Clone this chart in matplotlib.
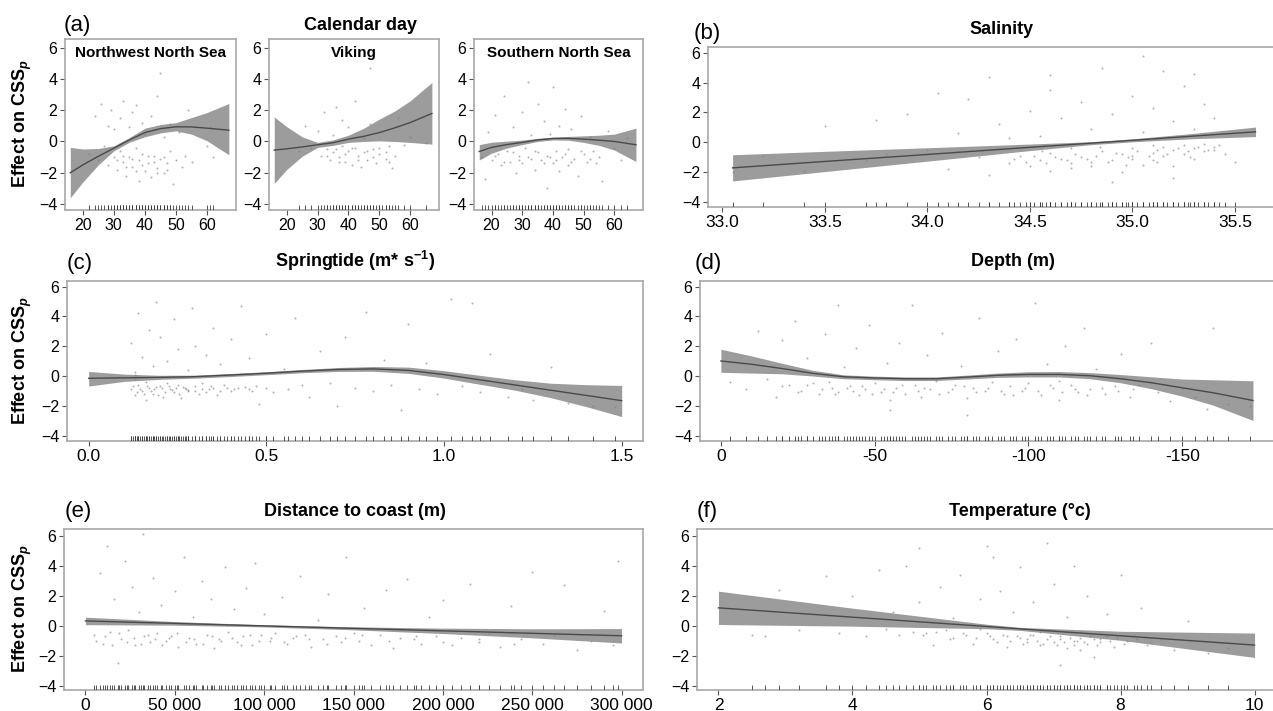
import matplotlib
matplotlib.use("Agg")
import matplotlib.pyplot as plt

plt.rcParams['font.family'] = ['Liberation Sans', 'DejaVu Sans']
plt.rcParams['mathtext.fontset'] = 'custom'
plt.rcParams['mathtext.rm'] = 'Liberation Sans:bold'
plt.rcParams['mathtext.bf'] = 'Liberation Sans:bold'
plt.rcParams['mathtext.it'] = 'Liberation Sans:italic:bold'

# ---- (a) calendar day, three regions ----
cal_x = [16, 20, 25, 30, 35, 40, 45, 50, 55, 60, 67]
nw_fit = [-2.0, -1.5, -0.95, -0.43, 0.1, 0.57, 0.82, 0.94, 0.93, 0.85, 0.72]
nw_lo = [-3.6, -2.6, -1.5, -0.6, -0.05, 0.3, 0.55, 0.68, 0.47, 0.04, -0.85]
nw_hi = [-0.38, -0.48, -0.45, -0.28, 0.25, 0.85, 1.08, 1.2, 1.53, 1.85, 2.43]
vk_fit = [-0.55, -0.47, -0.35, -0.21, -0.08, 0.15, 0.33, 0.57, 0.87, 1.21, 1.79]
vk_lo = [-2.68, -1.8, -0.95, -0.38, -0.25, -0.06, 0.0, 0.04, 0.0, -0.06, -0.17]
vk_hi = [1.57, 0.95, 0.3, -0.06, 0.1, 0.4, 0.85, 1.43, 1.95, 2.6, 3.77]
ss_fit = [-0.64, -0.38, -0.2, -0.06, 0.1, 0.19, 0.2, 0.15, 0.08, 0.0, -0.21]
ss_lo = [-1.19, -0.75, -0.42, -0.2, 0.0, 0.1, 0.08, -0.06, -0.25, -0.55, -1.28]
ss_hi = [-0.2, -0.05, 0.02, 0.09, 0.2, 0.28, 0.32, 0.36, 0.4, 0.47, 0.85]

nw_pts = [(22, -0.8), (24, 1.6), (25, -1.2), (26, 2.4), (27, -0.3), (28, 1.0), (28, -1.5),
          (29, 2.0), (30, -1.0), (30, 0.8), (31, -1.8), (32, 1.5), (32, -0.6), (33, 2.6),
          (33, -1.3), (34, -2.2), (35, 0.9), (35, -1.0), (36, 1.9), (36, -1.6), (37, -0.4),
          (37, 2.3), (38, -1.2), (38, -2.5), (39, 1.2), (39, -0.8), (40, -1.9), (40, 0.5),
          (41, -1.4), (42, 1.6), (42, -2.3), (43, -0.9), (44, -1.7), (44, 2.9), (45, -1.1),
          (45, 4.4), (46, 0.3), (46, -2.0), (47, -1.4), (48, 1.1), (48, -0.6), (49, -2.7),
          (50, -1.2), (51, 0.6), (52, -1.6), (53, -0.9), (54, 2.0), (55, -1.3), (60, -0.3),
          (61, 0.9), (62, -1.0), (31, -1.2), (33, -0.9), (34, -1.6), (36, -1.1), (37, -1.9),
          (39, -1.5), (41, -0.9), (43, -1.3), (44, -2.0), (46, -1.0), (47, -1.8)]
vk_pts = [(24, -0.6), (26, 1.0), (28, -0.4), (30, 0.7), (31, -0.9), (32, 1.9), (33, -0.5),
          (34, -1.2), (35, 0.4), (35, -0.7), (36, 2.2), (37, -1.0), (38, -0.3), (38, 1.4),
          (39, -1.3), (40, -0.6), (40, 0.9), (41, -1.5), (42, -0.4), (42, 2.6), (43, -0.9),
          (44, -1.6), (45, 0.2), (45, -0.7), (46, -1.2), (47, 4.7), (47, 1.1), (48, -0.5),
          (49, -1.4), (50, -0.8), (51, 0.6), (52, -1.1), (53, -0.3), (54, -1.7), (55, -0.9),
          (56, 1.5), (58, -0.2), (60, 0.3), (65, -0.1), (33, -0.9), (36, -0.5), (37, -1.3),
          (39, -0.8), (41, -0.4), (43, -1.2), (46, -0.6), (48, -1.0), (50, -0.4), (52, -0.7),
          (53, -1.3)]
ss_pts = [(17, -1.0), (18, -2.4), (19, 0.6), (20, -1.2), (21, 1.7), (22, -0.8), (23, -1.5),
          (24, 2.9), (25, -0.6), (26, -1.3), (27, 0.9), (28, -2.0), (29, -0.9), (30, 1.9),
          (30, -1.4), (31, -0.4), (32, 3.8), (33, -1.1), (33, 0.4), (34, -1.8), (35, 2.4),
          (35, -0.7), (36, -1.2), (37, 1.3), (38, -0.9), (38, -3.0), (39, 0.5), (40, -1.4),
          (40, 3.5), (41, -0.6), (42, 1.0), (42, -1.9), (43, -1.0), (44, 2.1), (45, -0.5),
          (45, -1.5), (46, 0.8), (47, -1.1), (48, -2.2), (49, 1.6), (50, -0.8), (51, -1.3),
          (52, 0.3), (53, -0.6), (55, -1.0), (56, -2.5), (58, 0.7), (60, -0.4), (62, -1.2),
          (64, 0.2), (21, -0.9), (24, -1.3), (27, -0.7), (29, -1.2), (32, -1.0), (34, -0.6),
          (37, -1.4), (39, -1.0), (41, -1.2), (44, -0.8), (46, -1.3), (49, -0.6), (52, -1.1),
          (54, -1.4)]

# ---- (b) salinity ----
sal_x = [33.05, 33.5, 34.0, 34.5, 34.8, 35.0, 35.3, 35.6]
sal_fit = [-1.72, -1.29, -0.82, -0.34, -0.06, 0.13, 0.42, 0.7]
sal_lo = [-2.6, -1.97, -1.27, -0.56, -0.16, 0.03, 0.24, 0.38]
sal_hi = [-0.84, -0.61, -0.37, -0.12, 0.04, 0.23, 0.6, 1.02]
sal_pts = [(33.05, -2.0), (33.2, -0.9), (33.4, -1.9), (33.5, 1.1), (33.7, -1.2), (33.75, 1.5),
           (33.8, -0.8), (33.9, 1.9), (34.0, -0.5), (34.05, 3.3), (34.1, -1.8), (34.15, 0.6),
           (34.2, 2.9), (34.25, -1.0), (34.3, 4.4), (34.3, -2.2), (34.35, 1.2), (34.4, -1.4),
           (34.4, 0.3), (34.45, -0.9), (34.5, -1.6), (34.5, 2.1), (34.55, -1.2), (34.55, 0.4),
           (34.6, -0.7), (34.6, -1.9), (34.6, 4.5), (34.65, -1.1), (34.65, 1.6), (34.7, -1.4),
           (34.7, -0.4), (34.75, 2.7), (34.75, -1.0), (34.8, -1.6), (34.8, 0.9), (34.85, -0.6),
           (34.85, 5.0), (34.9, -1.2), (34.9, 1.9), (34.95, -0.8), (34.95, -2.0), (35.0, -1.1),
           (35.0, 3.1), (35.0, -0.4), (35.05, 0.7), (35.05, -1.5), (35.1, -0.7), (35.1, 2.3),
           (35.1, -1.2), (35.15, -0.3), (35.15, 4.8), (35.15, -0.9), (35.2, 1.4), (35.2, -0.5),
           (35.2, -1.6), (35.25, -0.2), (35.25, 3.8), (35.25, -0.8), (35.3, -0.4), (35.3, 0.9),
           (35.3, -1.1), (35.35, -0.1), (35.35, 2.6), (35.35, -0.6), (35.4, -0.3), (35.4, 1.6),
           (35.45, -0.8), (35.5, -1.3), (35.3, 4.6), (35.05, 5.8), (34.9, -2.7), (35.2, -2.4),
           (34.6, 3.5), (35.4, -0.5), (35.0, -0.9), (34.8, -1.3), (34.7, -1.7), (35.1, -0.2),
           (34.42, -1.1), (34.48, -1.3), (34.52, -0.9), (34.58, -1.4), (34.62, -1.0),
           (34.68, -1.2), (34.72, -0.8), (34.78, -1.1), (34.82, -0.9), (34.88, -1.3),
           (34.92, -0.7), (34.98, -1.0), (35.02, -0.6), (35.08, -0.9), (35.12, -0.5),
           (35.17, -0.8), (35.22, -0.4), (35.27, -0.6), (35.32, -0.3), (35.37, -0.5),
           (35.42, -0.2), (35.12, -1.3), (34.97, -1.5), (35.28, -1.0), (34.56, -0.6),
           (34.84, -0.3)]

# ---- (c) springtide ----
tide_x = [0.0, 0.1, 0.2, 0.3, 0.4, 0.5, 0.6, 0.7, 0.8, 0.9, 1.0, 1.1, 1.2, 1.3, 1.4, 1.5]
tide_fit = [-0.15, -0.12, -0.09, -0.04, 0.07, 0.19, 0.33, 0.44, 0.48, 0.38, 0.1, -0.25,
            -0.6, -0.95, -1.3, -1.65]
tide_lo = [-0.67, -0.36, -0.22, -0.14, -0.03, 0.09, 0.22, 0.31, 0.32, 0.18, -0.14, -0.55,
           -0.95, -1.45, -2.05, -2.72]
tide_hi = [0.31, 0.13, 0.05, 0.06, 0.17, 0.29, 0.44, 0.57, 0.64, 0.6, 0.36, 0.05,
           -0.25, -0.48, -0.58, -0.63]
tide_pts = [(0.12, -0.9), (0.12, 2.2), (0.13, 0.3), (0.13, -1.3), (0.14, 4.2), (0.14, -0.6),
            (0.15, -1.0), (0.15, 1.3), (0.16, -0.4), (0.16, -1.6), (0.17, 3.1), (0.17, -0.8),
            (0.18, 0.7), (0.18, -1.2), (0.19, 5.0), (0.2, -0.7), (0.2, 2.6), (0.21, -1.4),
            (0.22, -0.5), (0.22, 1.0), (0.23, -0.9), (0.24, 3.8), (0.24, -1.1), (0.25, -0.6),
            (0.25, 1.8), (0.26, -1.5), (0.27, -0.8), (0.28, 0.4), (0.28, -1.0), (0.29, 4.6),
            (0.3, -0.7), (0.3, 2.0), (0.31, -1.2), (0.32, -0.5), (0.33, 1.4), (0.34, -0.9),
            (0.35, 3.2), (0.35, -0.8), (0.36, -1.3), (0.37, 0.8), (0.38, -0.6), (0.4, -1.0),
            (0.4, 2.5), (0.42, -0.8), (0.43, 4.7), (0.45, -0.9), (0.45, 1.2), (0.47, -0.7),
            (0.48, -1.9), (0.5, -0.8), (0.5, 2.8), (0.52, -1.1), (0.55, 0.5), (0.56, -0.9),
            (0.58, 3.9), (0.6, -0.6), (0.62, -1.4), (0.65, 1.7), (0.68, -0.5), (0.7, -2.0),
            (0.72, 2.6), (0.75, -0.8), (0.78, 4.3), (0.8, -1.0), (0.83, 1.1), (0.85, -0.6),
            (0.88, -2.3), (0.9, 3.5), (0.93, -0.9), (0.95, 0.9), (0.98, -1.2), (1.02, 5.2),
            (1.05, -0.7), (1.08, 4.9), (1.1, -1.1), (1.13, 1.5), (1.18, -1.4), (1.22, -0.9),
            (1.25, -1.6), (1.3, 0.6), (1.35, -1.8), (1.42, -2.0), (1.48, -2.1), (0.28, -0.95),
            (0.19, -0.75), (0.33, -1.05), (0.125, -0.7), (0.135, -1.1), (0.145, -0.85),
            (0.155, -1.2), (0.165, -0.65), (0.175, -1.0), (0.185, -0.9), (0.195, -1.3),
            (0.205, -0.8), (0.215, -1.05), (0.225, -0.7), (0.235, -0.95), (0.245, -0.8),
            (0.255, -1.2), (0.265, -0.75), (0.275, -0.9), (0.3, -1.0), (0.32, -0.85),
            (0.345, -0.7), (0.37, -1.0), (0.39, -0.8), (0.41, -0.9), (0.44, -0.75),
            (0.46, -1.0), (0.13, 0.1), (0.13, -0.2)]

# ---- (d) depth ----
depth_x = [0, -10, -20, -30, -40, -50, -60, -70, -80, -90, -100, -110, -120, -130, -140,
           -150, -160, -173]
depth_fit = [1.01, 0.79, 0.5, 0.18, -0.05, -0.13, -0.18, -0.18, -0.07, 0.05, 0.11, 0.11,
             0.02, -0.18, -0.45, -0.79, -1.12, -1.64]
depth_lo = [0.25, 0.2, 0.15, 0.0, -0.18, -0.25, -0.3, -0.3, -0.2, -0.09, -0.06, -0.06,
            -0.18, -0.45, -0.85, -1.35, -1.95, -2.98]
depth_hi = [1.8, 1.35, 0.85, 0.38, 0.08, -0.01, -0.06, -0.06, 0.06, 0.2, 0.29, 0.3,
            0.23, 0.1, -0.05, -0.2, -0.25, -0.32]
depth_pts = [(-3, -0.4), (-8, -0.9), (-12, 3.0), (-15, -0.2), (-18, -1.4), (-20, 2.4),
             (-22, -0.6), (-24, 3.7), (-26, -1.0), (-28, 1.2), (-30, -0.5), (-32, -1.2),
             (-34, 2.8), (-36, -0.8), (-38, 4.8), (-38, -1.1), (-40, 0.6), (-42, -0.7),
             (-44, 1.9), (-45, -1.3), (-47, -0.9), (-48, 3.4), (-50, -0.5), (-52, -1.1),
             (-54, 0.9), (-55, -1.6), (-57, -0.8), (-58, 2.2), (-60, -1.2), (-62, 4.8),
             (-63, -0.6), (-65, -1.4), (-67, 1.4), (-68, -0.9), (-70, -0.3), (-72, 2.9),
             (-74, -1.1), (-76, -0.6), (-78, 0.7), (-80, -1.5), (-82, -0.8), (-84, 3.9),
             (-86, -1.0), (-88, -0.4), (-90, 1.7), (-92, -1.2), (-94, -0.7), (-96, 2.5),
             (-98, -1.0), (-100, -0.5), (-102, 4.9), (-104, -1.3), (-106, 0.8), (-108, -0.8),
             (-110, -1.6), (-112, 2.0), (-114, -0.6), (-116, -1.1), (-118, 3.2), (-120, -0.9),
             (-122, 0.5), (-125, -1.2), (-128, -0.7), (-130, 1.5), (-133, -1.4), (-136, -0.6),
             (-140, 2.2), (-142, -1.1), (-146, -1.7), (-150, -0.9), (-154, -1.4), (-158, -2.2),
             (-160, 3.2), (-165, -1.9), (-172, -2.0), (-55, -2.3), (-80, -2.6), (-35, -0.4),
             (-110, -0.3), (-20, -0.7), (-25, -1.1), (-28, -0.6), (-33, -0.9), (-37, -1.2),
             (-41, -0.8), (-43, -1.0), (-46, -0.7), (-49, -1.2), (-53, -0.9), (-56, -1.1),
             (-59, -0.6), (-64, -1.0), (-66, -0.8), (-71, -1.2), (-75, -0.9), (-79, -0.7),
             (-83, -1.1), (-87, -0.8), (-91, -1.0), (-95, -1.3), (-99, -0.8), (-103, -1.0),
             (-107, -0.6), (-111, -1.1), (-115, -0.9), (-119, -1.3), (-124, -0.8),
             (-129, -1.0), (-134, -0.9)]

# ---- (e) distance to coast ----
dist_x = [0, 50000, 100000, 150000, 200000, 250000, 300000]
dist_fit = [0.33, 0.165, 0.0, -0.165, -0.33, -0.495, -0.66]
dist_lo = [0.08, 0.045, -0.07, -0.265, -0.51, -0.795, -1.14]
dist_hi = [0.58, 0.285, 0.07, -0.065, -0.15, -0.195, -0.18]
dist_pts = [(5000, -0.6), (8000, 3.5), (10000, -1.2), (12000, 5.3), (14000, -0.4),
            (16000, 1.8), (18000, -2.5), (20000, -0.9), (22000, 4.3), (24000, -0.3),
            (26000, 2.6), (28000, -1.3), (30000, 0.9), (32000, 6.1), (33000, -0.7),
            (36000, -1.1), (38000, 3.2), (40000, -0.5), (42000, 1.4), (45000, -1.0),
            (48000, -0.7), (50000, 2.3), (52000, -1.4), (55000, 4.6), (58000, -0.8),
            (60000, 0.6), (62000, -1.2), (65000, 3.0), (68000, -0.6), (70000, 1.8),
            (72000, -1.5), (75000, -0.9), (78000, 3.9), (80000, -0.4), (83000, 1.1),
            (85000, -1.1), (88000, -0.7), (90000, 2.5), (93000, -1.3), (95000, 4.2),
            (98000, -0.6), (100000, 0.8), (103000, -1.0), (106000, -0.5), (110000, 1.9),
            (113000, -1.2), (116000, -0.8), (120000, 3.3), (123000, -0.6), (126000, -1.4),
            (130000, 0.4), (133000, -0.9), (136000, 2.1), (140000, -0.7), (143000, -1.1),
            (146000, 4.6), (150000, -0.5), (153000, -1.0), (156000, 1.2), (160000, -1.3),
            (165000, -0.6), (168000, 2.4), (172000, -1.5), (176000, -0.8), (180000, 3.1),
            (184000, -0.9), (188000, -1.2), (192000, 0.6), (196000, -0.7), (200000, 1.7),
            (205000, -1.3), (210000, -0.8), (215000, 2.8), (220000, -1.1), (226000, -0.5),
            (232000, -1.4), (238000, 1.3), (244000, -0.9), (250000, 3.6), (256000, -1.2),
            (262000, -0.6), (268000, 2.7), (275000, -1.6), (283000, -1.0), (290000, 1.0),
            (298000, 4.3), (295000, -1.3), (6000, -1.0), (11000, -0.7), (15000, -1.3),
            (19000, -0.5), (23000, -1.1), (27000, -0.8), (31000, -1.2), (35000, -0.6),
            (39000, -0.9), (43000, -1.3), (47000, -0.8), (51000, -0.5), (56000, -1.1),
            (61000, -0.9), (66000, -1.2), (71000, -0.7), (76000, -1.0), (82000, -0.8),
            (87000, -1.3), (92000, -0.6), (97000, -1.0), (104000, -0.8), (111000, -1.1),
            (118000, -0.7), (125000, -0.9), (135000, -1.2), (145000, -0.8), (155000, -0.6),
            (170000, -1.0), (185000, -0.7), (200000, -1.1), (220000, -0.9), (240000, -1.2)]

# ---- (f) temperature ----
temp_x = [2, 4, 6, 6.5, 8, 10]
temp_fit = [1.2, 0.58, -0.04, -0.2, -0.66, -1.28]
temp_lo = [0.09, -0.02, -0.19, -0.3, -0.96, -2.1]
temp_hi = [2.31, 1.18, 0.11, -0.1, -0.36, -0.48]
temp_pts = [(2.5, -0.6), (2.7, -0.7), (2.9, 2.4), (3.2, -0.3), (3.6, 3.3), (3.8, -0.5),
            (4.0, 2.0), (4.2, -0.7), (4.4, 3.7), (4.5, -0.2), (4.6, 0.9), (4.7, -0.6),
            (4.8, 4.0), (4.9, -0.4), (5.0, 1.6), (5.0, 5.2), (5.1, -0.5), (5.2, -1.3),
            (5.3, 2.6), (5.4, -0.3), (5.5, 0.5), (5.5, -0.8), (5.6, 3.4), (5.7, -0.6),
            (5.8, -1.2), (5.9, 1.8), (6.0, -0.5), (6.0, 5.3), (6.1, -0.9), (6.2, 2.3),
            (6.3, -0.7), (6.3, -1.4), (6.4, 0.9), (6.5, -0.8), (6.5, 3.9), (6.6, -1.1),
            (6.7, -0.6), (6.7, 1.6), (6.8, -1.3), (6.9, -0.9), (6.9, 5.5), (7.0, -1.1),
            (7.0, 2.8), (7.1, -0.7), (7.2, -1.5), (7.2, 0.6), (7.3, -1.0), (7.3, 4.0),
            (7.4, -0.8), (7.5, -1.2), (7.5, 2.0), (7.6, -0.9), (7.6, -2.1), (7.7, -1.1),
            (7.8, 0.8), (7.8, -0.7), (7.9, -1.4), (8.0, 3.4), (8.1, -1.0), (8.2, -0.6),
            (8.3, 1.2), (8.4, -1.3), (8.6, -0.9), (8.8, -1.6), (9.0, 0.3), (9.3, -1.8),
            (9.6, -1.5), (6.1, 4.6), (7.1, -2.6), (5.9, -0.2), (6.8, -0.4), (7.4, -1.6),
            (5.05, -0.6), (5.25, -0.4), (5.45, -0.9), (5.65, -0.5), (5.85, -0.8), (6.05, -0.7),
            (6.15, -1.1), (6.25, -0.6), (6.35, -1.0), (6.45, -0.7), (6.55, -1.2), (6.6, -0.9),
            (6.65, -0.6), (6.75, -1.0), (6.85, -1.2), (6.95, -0.7), (7.05, -1.3), (7.1, -0.9),
            (7.15, -1.1), (7.25, -0.8), (7.3, -1.3), (7.35, -1.0), (7.45, -1.1), (7.55, -0.7),
            (7.65, -1.3), (7.7, -0.9), (7.85, -1.0), (7.95, -0.8), (8.05, -1.2), (8.25, -0.9),
            (8.45, -1.1)]

y_ticks = [-4, -2, 0, 2, 4, 6]
cal_ticks = [20, 30, 40, 50, 60]
dist_ticks = [0, 50000, 100000, 150000, 200000, 250000, 300000]
dist_labels = ['0', '50 000', '100 000', '150 000', '200 000', '250 000', '300 000']

W, H = 1273, 711
fig = plt.figure(figsize=(W / 100, H / 100), dpi=100)


def box(l, r, t, b):
    return [l / W, 1 - b / H, (r - l) / W, (b - t) / H]


def panel(rect, pts, cx, fit, lo, hi, xlim, ylim, xticks, xlabels=None, xsize=12.5):
    ax = fig.add_axes(rect)
    px, py = zip(*pts)
    ax.fill_between(cx, lo, hi, color='#9c9c9c', lw=0, zorder=2)
    ax.plot(cx, fit, color='#4a4a4a', lw=1.0, zorder=3)
    ax.scatter(px, py, s=2, c='#7a7a7a', alpha=0.6, linewidths=0, zorder=4)
    ax.vlines(px, 0, 0.03, transform=ax.get_xaxis_transform(), colors='#3a3a3a',
              lw=0.6, zorder=5)
    ax.set_xlim(xlim)
    ax.set_ylim(ylim)
    ax.set_xticks(xticks)
    if xlabels:
        ax.set_xticklabels(xlabels)
    ax.set_yticks(y_ticks)
    for s in ax.spines.values():
        s.set_color('#a8a8a8')
        s.set_linewidth(1.2)
    ax.tick_params(direction='out', length=3.5, width=0.8, color='#555555', pad=2)
    ax.tick_params(axis='x', labelsize=xsize)
    ax.tick_params(axis='y', labelsize=11.5)
    return ax


cal_lim = (14.3, 69.3)
a1 = panel(box(65, 236, 39, 210), nw_pts, cal_x, nw_fit, nw_lo, nw_hi, cal_lim,
           (-4.38, 6.55), cal_ticks, xsize=11.5)
a2 = panel(box(269, 439, 39, 210), vk_pts, cal_x, vk_fit, vk_lo, vk_hi, cal_lim,
           (-4.38, 6.55), cal_ticks, xsize=11.5)
a3 = panel(box(474, 643, 39, 210), ss_pts, cal_x, ss_fit, ss_lo, ss_hi, cal_lim,
           (-4.38, 6.55), cal_ticks, xsize=11.5)
for ax, name in [(a1, 'Northwest North Sea'), (a2, 'Viking'), (a3, 'Southern North Sea')]:
    ax.text(0.5, 0.96, name, transform=ax.transAxes, ha='center', va='top',
            fontsize=11, fontweight='bold')

b = panel(box(708, 1276, 47, 207), sal_pts, sal_x, sal_fit, sal_lo, sal_hi,
          (32.93, 35.7), (-4.35, 6.4), [33.0, 33.5, 34.0, 34.5, 35.0, 35.5],
          ['33.0', '33.5', '34.0', '34.5', '35.0', '35.5'])
c = panel(box(67, 643, 281, 441), tide_pts, tide_x, tide_fit, tide_lo, tide_hi,
          (-0.061, 1.56), (-4.36, 6.38), [0.0, 0.5, 1.0, 1.5], ['0.0', '0.5', '1.0', '1.5'])
d = panel(box(700, 1276, 281, 441), depth_pts, depth_x, depth_fit, depth_lo, depth_hi,
          (6.8, -180.5), (-4.36, 6.38), [0, -50, -100, -150], ['0', '-50', '-100', '-150'])
e = panel(box(64, 643, 529, 690), dist_pts, dist_x, dist_fit, dist_lo, dist_hi,
          (-12000, 312000), (-4.27, 6.45), dist_ticks, dist_labels)
f = panel(box(697, 1276, 529, 690), temp_pts, temp_x, temp_fit, temp_lo, temp_hi,
          (1.68, 10.32), (-4.27, 6.45), [2, 4, 6, 8, 10], ['2', '4', '6', '8', '10'])


def ftext(x, y, s, **kw):
    fig.text(x / W, 1 - y / H, s, va='center', **kw)


# panel letters
for x, y, s in [(64, 25, '(a)'), (694, 33, '(b)'), (67, 263, '(c)'), (695, 263, '(d)'),
                (65, 511, '(e)'), (697, 511, '(f)')]:
    ftext(x, y, s, ha='left', fontsize=16)

# titles
for x, y, s in [(360, 25, 'Calendar day'), (1002, 30, 'Salinity'),
                (355, 261, r'Springtide (m* s$^{-1}$)'), (1013, 262, 'Depth (m)'),
                (355, 511, 'Distance to coast (m)'), (1020, 512, 'Temperature (°c)')]:
    ftext(x, y, s, ha='center', fontsize=13, fontweight='bold')

# y labels
for y in [124, 361, 609]:
    ftext(22, y, r'Effect on CSS$_{\mathit{p}}$', ha='center', rotation=90,
          fontsize=13, fontweight='bold')

fig.savefig('out.png', dpi=100)
